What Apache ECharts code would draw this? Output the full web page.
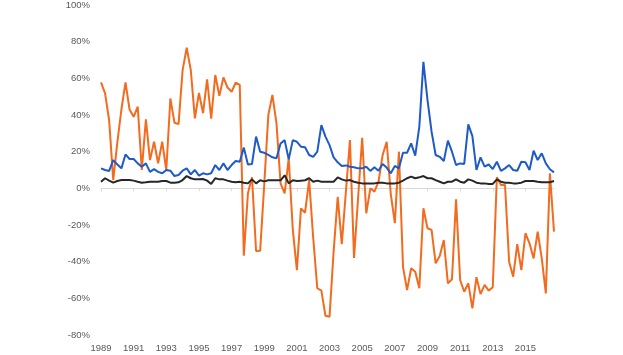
<!DOCTYPE html>
<html>
<head>
<meta charset="utf-8">
<script src="https://cdn.jsdelivr.net/npm/echarts@6/dist/echarts.min.js"></script>
<style>html,body{margin:0;padding:0;background:#fff;}#c{width:623px;height:355px;}</style>
</head>
<body>
<div id="c"></div>
<script>
// Quarterly categories 1989 Q1 .. 2016 Q4
const startYear = 1989, endYear = 2016;
const categories = [];
for (let y = startYear; y <= endYear; y++) for (let q = 1; q <= 4; q++) categories.push(y + ' Q' + q);

const orangeSeries = [57.8,51.8,37,4.5,25,43,57.8,43,39,44.5,10,37.6,15.4,25.4,13.6,25.4,10,49,35.8,35,64.5,76.7,64.5,38.2,52,41,59.5,38,61.8,50.5,60.5,55,52.7,57.6,56.4,-36.8,-2.7,6,-34.2,-34,2,40,51,35.4,2.7,-2.7,16.4,-22.7,-44.6,-10.9,-13.3,4.5,-27,-54.5,-55.8,-69.5,-70,-34.5,-4.7,-30.4,-2,26.3,-38,-5,27.6,-13.6,0,-1.8,3.6,18,25.4,-3,-19,20,-42.8,-55.5,-43.6,-45.5,-54.5,-10.9,-21.8,-22.7,-40.9,-36.9,-28.2,-51.8,-49.6,-6,-50,-56.4,-51.8,-65.5,-48.5,-57.7,-52.7,-55.8,-54,6,1.8,1.8,-40,-48.2,-30.4,-44.6,-24.5,-30,-38.2,-23.6,-38.2,-57.3,8.2,-23.6];

const blueSeries = [10.9,10,9.5,15.4,13,10.9,18.5,16,16,13.6,11.8,13.6,9,10.5,9,8.2,10,9.6,6.7,7.3,9.6,10.9,7.6,10,6.9,8.2,7.6,8.2,12.7,10,13.6,10,12.7,14.9,14.5,22.2,13,13.3,28.2,20,19.4,18.2,16.9,16.4,24.5,26.3,15.8,26.3,25.4,22.7,22.4,18.2,17.2,20,34.5,28.2,23.6,16.9,14.2,12.2,12.5,11.8,11.5,10.9,10.9,11.8,9.5,11.5,9.6,13.3,11.3,8.2,12.2,10.9,19.4,19.4,24.5,17.8,33.6,69,48.2,30.9,18.2,17.2,14.9,26,20,12.7,13.6,13.3,34.9,28.5,10,16.9,11.8,13,10.5,14.5,9.5,10.9,12.7,10,9.6,14.5,14.2,10,20.5,15.4,19.1,13.6,10.4,8.7];

const blackSeries = [3.6,5.5,4.2,3.1,4.0,4.5,4.5,4.5,4.2,3.6,3.1,3.3,3.6,3.6,3.6,4.0,4.0,3.1,3.1,3.3,4.5,6.7,5.5,4.9,4.9,5.1,4.2,2.4,5.5,4.9,4.9,4.2,3.6,3.3,3.6,
3.1,2.7,4.9,2.7,4.4,3.8,4.4,4.4,4.4,4.4,7.1,2.7,4.4,4.0,
4.2,4.4,5.5,3.6,4.2,3.6,3.6,3.6,3.6,6.0,4.9,4.2,4.5,3.6,3.1,2.7,2.7,2.7,2.7,3.1,3.1,2.7,2.7,2.7,3.1,4.2,5.5,6.4,5.5,6.0,6.7,5.5,5.5,4.5,3.6,2.7,3.6,3.6,4.9,3.6,3.1,4.9,4.2,3.1,2.7,2.7,2.4,2.4,4.9,3.6,3.1,3.1,2.7,2.7,3.1,4.0,4.0,4.0,3.6,3.3,3.3,3.3,4.0];

const yTicks = {min: -80, max: 100, interval: 20};

const chart = echarts.init(document.getElementById('c'), null, {renderer: 'canvas'});
const font = '"Liberation Sans", Arial, sans-serif';
const every8 = (i) => i % 8 === 0;
chart.setOption({
  animation: false,
  backgroundColor: '#fff',
  grid: {left: 101, right: 69, top: 5, bottom: 20, containLabel: false},
  xAxis: [{
    type: 'category', data: categories, boundaryGap: false,
    axisLine: {onZero: true, lineStyle: {color: '#d9d9d9', width: 1}},
    axisTick: {show: true, interval: (i) => every8(i), length: 3, lineStyle: {color: '#d9d9d9'}},
    axisLabel: {show: false}, splitLine: {show: false}
  }, {
    type: 'category', data: categories, boundaryGap: false, position: 'bottom',
    axisLine: {show: false, onZero: false}, axisTick: {show: false}, splitLine: {show: false},
    axisLabel: {show: true, interval: (i) => every8(i), formatter: (v) => v.slice(0, 4),
      color: '#595959', fontSize: 9.5, fontFamily: font, margin: 8}
  }],
  yAxis: {
    type: 'value', min: yTicks.min, max: yTicks.max, interval: yTicks.interval,
    axisLine: {show: false}, axisTick: {show: false}, splitLine: {show: false},
    axisLabel: {formatter: '{value}%', color: '#595959', fontSize: 9.5, fontFamily: font, margin: 11}
  },
  series: [
    {type: 'line', data: orangeSeries, xAxisIndex: 0, showSymbol: false, symbol: 'none',
      lineStyle: {color: '#f26b1f', width: 2}, z: 3},
    {type: 'line', data: blueSeries, xAxisIndex: 0, showSymbol: false, symbol: 'none',
      lineStyle: {color: '#1f5bc6', width: 2}, z: 4},
    {type: 'line', data: blackSeries, xAxisIndex: 0, showSymbol: false, symbol: 'none',
      lineStyle: {color: '#262626', width: 2}, z: 5}
  ]
});
</script>
</body>
</html>
